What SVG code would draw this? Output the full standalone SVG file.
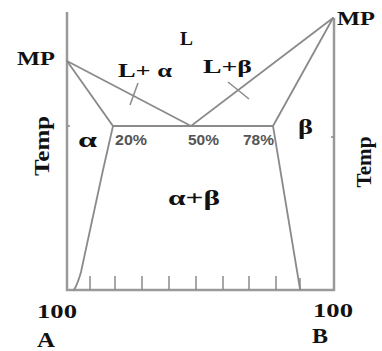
<svg xmlns="http://www.w3.org/2000/svg" width="382" height="351" viewBox="0 0 382 351">
<style>
.ax{stroke:#9a9a9a;stroke-width:2.5;fill:none}
.ln{stroke:#8a8a8a;stroke-width:1.8;fill:none;stroke-linecap:round}
.tk{stroke:#8a8a8a;stroke-width:1.5}
.t{font-family:"Liberation Serif","Times New Roman",serif;font-weight:bold;fill:#111}
.p{font-family:"Liberation Sans",Arial,sans-serif;font-weight:bold;font-size:14px;fill:#555}
</style>
<rect width="382" height="351" fill="#fff"/>
<g id="axes">
<path class="ax" d="M67,12 V290 H334 V18"/>
<line class="tk" x1="67" y1="126" x2="70" y2="126"/>
<line class="tk" x1="331" y1="137" x2="334" y2="137"/>
<g class="tk">
<line x1="90" y1="276" x2="90" y2="290"/>
<line x1="115" y1="276" x2="115" y2="290"/>
<line x1="142" y1="276" x2="142" y2="290"/>
<line x1="169" y1="276" x2="169" y2="290"/>
<line x1="196" y1="276" x2="196" y2="290"/>
<line x1="223" y1="276" x2="223" y2="290"/>
<line x1="249" y1="276" x2="249" y2="290"/>
<line x1="276" y1="276" x2="276" y2="290"/>
<line x1="300" y1="278" x2="300" y2="290"/>
</g>
</g>
<g id="connectors">
<path class="ln" d="M67,61 L191,126 L333,18"/>
<path class="ln" d="M67,61 L113,126 H273 L333,18"/>
<path class="ln" d="M113,126 L103,170 L81,272 Q78,283 74,290"/>
<path class="ln" d="M273,126 L300,289"/>
<line class="tk" x1="130" y1="105" x2="138" y2="83"/>
<line class="tk" x1="228" y1="82" x2="249" y2="99"/>
</g>
<g id="labels">
<text class="t" x="17" y="65" font-size="18" textLength="38" lengthAdjust="spacingAndGlyphs">MP</text>
<text class="t" x="337" y="25" font-size="18" textLength="38" lengthAdjust="spacingAndGlyphs">MP</text>
<text class="t" x="180" y="45" font-size="19" textLength="13" lengthAdjust="spacingAndGlyphs">L</text>
<text class="t" x="118" y="77" font-size="18" textLength="54" lengthAdjust="spacingAndGlyphs">L+ α</text>
<text class="t" x="203" y="73" font-size="18" textLength="49" lengthAdjust="spacingAndGlyphs">L+β</text>
<text class="t" x="78" y="147" font-size="22" textLength="19" lengthAdjust="spacingAndGlyphs">α</text>
<text class="t" x="298" y="134" font-size="20" textLength="15" lengthAdjust="spacingAndGlyphs">β</text>
<text class="t" x="168" y="205" font-size="20" textLength="52" lengthAdjust="spacingAndGlyphs">α+β</text>
<text class="p" x="115" y="145" textLength="32" lengthAdjust="spacingAndGlyphs">20%</text>
<text class="p" x="188" y="145" textLength="31" lengthAdjust="spacingAndGlyphs">50%</text>
<text class="p" x="243" y="145" textLength="31" lengthAdjust="spacingAndGlyphs">78%</text>
<text class="t" x="37" y="318" font-size="18" textLength="40" lengthAdjust="spacingAndGlyphs">100</text>
<text class="t" x="313" y="317" font-size="18" textLength="40" lengthAdjust="spacingAndGlyphs">100</text>
<text class="t" x="37" y="347" font-size="20" textLength="18" lengthAdjust="spacingAndGlyphs">A</text>
<text class="t" x="312" y="343" font-size="20" textLength="16" lengthAdjust="spacingAndGlyphs">B</text>
<text class="t" font-size="20" text-anchor="middle" transform="translate(49,146) rotate(-90)" textLength="60" lengthAdjust="spacingAndGlyphs">Temp</text>
<text class="t" font-size="20" text-anchor="middle" transform="translate(371,162) rotate(-90)" textLength="51" lengthAdjust="spacingAndGlyphs">Temp</text>
</g>
</svg>
